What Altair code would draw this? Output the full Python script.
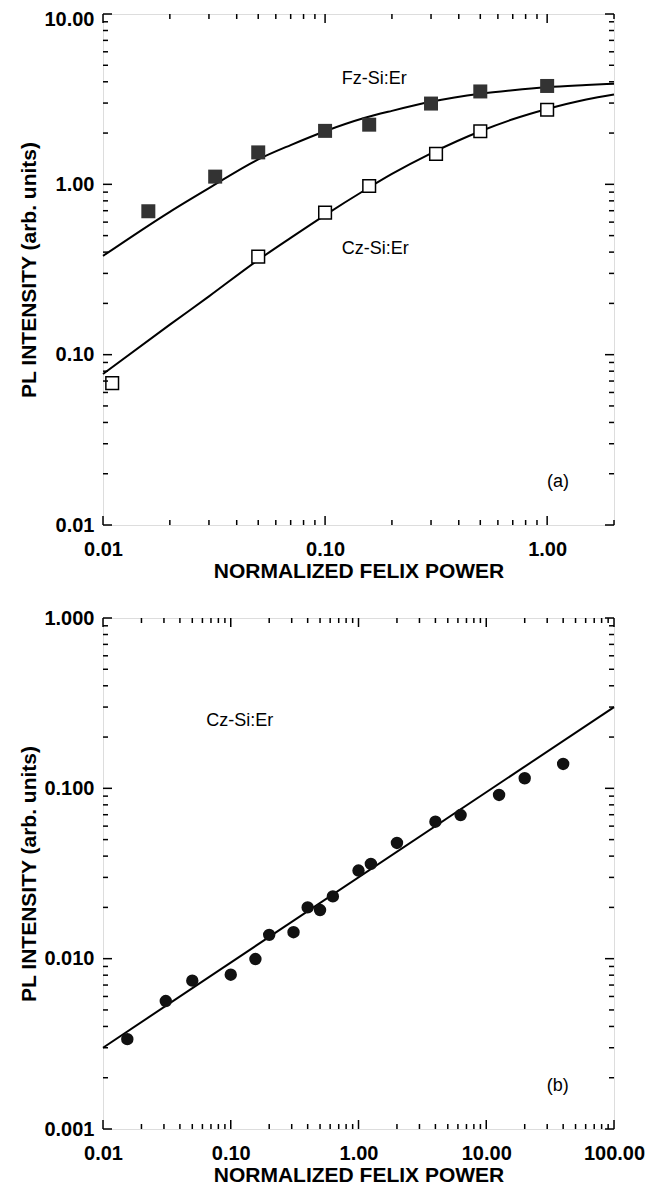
import altair as alt
import pandas as pd

# ---------------- data: panel (a) ----------------
fz_power = [0.016, 0.032, 0.050, 0.10, 0.158, 0.30, 0.50, 1.0]
fz_intensity = [0.695, 1.11, 1.54, 2.06, 2.24, 2.98, 3.51, 3.78]
cz_power = [0.011, 0.050, 0.10, 0.158, 0.316, 0.50, 1.0]
cz_intensity = [0.068, 0.376, 0.682, 0.978, 1.51, 2.05, 2.74]

fit_power_a = [0.01, 0.02, 0.03, 0.05, 0.07, 0.1, 0.15, 0.2, 0.3, 0.5, 0.7, 1.0, 1.5, 2.0]
fz_fit = [0.38, 0.69, 0.95, 1.40, 1.70, 2.05, 2.45, 2.70, 3.05, 3.40, 3.57, 3.72, 3.83, 3.90]
cz_fit = [0.077, 0.15, 0.22, 0.36, 0.485, 0.66, 0.92, 1.15, 1.52, 2.05, 2.41, 2.77, 3.15, 3.37]

# ---------------- data: panel (b) ----------------
b_power = [0.0155, 0.031, 0.05, 0.10, 0.156, 0.20, 0.31, 0.40, 0.50, 0.63,
           1.0, 1.25, 2.0, 4.0, 6.3, 12.6, 20.0, 40.0]
b_intensity = [0.00337, 0.00564, 0.00743, 0.00805, 0.00995, 0.0138, 0.0143, 0.0200,
               0.0193, 0.0232, 0.0329, 0.0360, 0.0478, 0.0637, 0.0697, 0.0914, 0.1146, 0.139]
b_fit_power = [0.01, 100.0]
b_fit = [0.003, 0.30]

# annotations
labels_a = ["Fz-Si:Er", "Cz-Si:Er"]
labels_a_x = [0.119, 0.119]
labels_a_y = [4.15, 0.417]
tag_a = ["(a)"]; tag_a_x = [1.12]; tag_a_y = [0.0179]
labels_b = ["Cz-Si:Er"]; labels_b_x = [0.0644]; labels_b_y = [0.249]
tag_b = ["(b)"]; tag_b_x = [36.3]; tag_b_y = [0.00180]

# ticks
xa_major = [0.01, 0.1, 1.0]
ya_major = [0.01, 0.1, 1.0, 10.0]
xb_major = [0.01, 0.1, 1.0, 10.0, 100.0]
yb_major = [0.001, 0.01, 0.1, 1.0]
minor_mult = [2, 3, 4, 5, 6, 7, 8, 9]


def minors(decades, upper):
    return [m * d for d in decades for m in minor_mult if m * d <= upper * 1.0001]


xa_minor = minors([0.01, 0.1, 1.0], 2.0)
ya_minor = minors([0.01, 0.1, 1.0], 10.0)
xb_minor = minors([0.01, 0.1, 1.0, 10.0], 100.0)
yb_minor = minors([0.001, 0.01, 0.1], 1.0)

W, H = 511, 511
FONT = "Liberation Sans"
MAJ, MIN = 9, 5


def make_axis(title, values, fmt, orient, top_value=None):
    kw = {}
    if orient == "y" and top_value is not None:
        kw["labelOffset"] = {"condition": {"test": f"datum.value >= {top_value * 0.999}", "value": 5},
                             "value": 0}
    return alt.Axis(
        title=title, values=values, format=fmt, ticks=False, domain=False, grid=False,
        labelFont=FONT, labelFontSize=20, labelFontWeight="bold", labelColor="black",
        labelPadding=14 if orient == "x" else 9,
        labelOverlap=False, labelFlush=False,
        titleFont=FONT, titleFontSize=21, titleFontWeight="bold", titleColor="black",
        titlePadding=1 if orient == "x" else 4,
        **kw,
    )


def panel(xdom, ydom, xmaj, xmin, ymaj, ymin, xfmt, yfmt, series_layers, texts, top_value=None):
    xs = alt.Scale(type="log", domain=xdom, nice=False)
    ys = alt.Scale(type="log", domain=ydom, nice=False)
    xax = make_axis("NORMALIZED FELIX POWER", xmaj, xfmt, "x")
    yax = make_axis("PL INTENSITY (arb. units)", ymaj, yfmt, "y", top_value)
    X = lambda: alt.X("x:Q", scale=xs, axis=xax)
    Y = lambda: alt.Y("y:Q", scale=ys, axis=yax)

    layers = []
    for kind, df, opts in series_layers:
        if kind == "line":
            layers.append(alt.Chart(df).mark_line(color="black", strokeWidth=2,
                                                   interpolate="monotone").encode(x=X(), y=Y()))
        else:
            layers.append(alt.Chart(df).mark_point(**opts).encode(x=X(), y=Y()))
    for df, align in texts:
        layers.append(alt.Chart(df).mark_text(font=FONT, fontSize=18, color="black",
                                              align=align, baseline="middle")
                      .encode(x=X(), y=Y(), text="t:N"))
    # inward ticks
    for vals, ln in [(xmaj, MAJ), (xmin, MIN)]:
        d = pd.DataFrame({"x": vals})
        layers.append(alt.Chart(d).mark_rule(color="black", strokeWidth=1.5).encode(
            x=X(), y=alt.value(H), y2=alt.value(H - ln)))
        layers.append(alt.Chart(d).mark_rule(color="black", strokeWidth=1.5).encode(
            x=X(), y=alt.value(0), y2=alt.value(ln)))
    for vals, ln in [(ymaj, MAJ), (ymin, MIN)]:
        d = pd.DataFrame({"y": vals})
        layers.append(alt.Chart(d).mark_rule(color="black", strokeWidth=1.5).encode(
            y=Y(), x=alt.value(0), x2=alt.value(ln)))
        layers.append(alt.Chart(d).mark_rule(color="black", strokeWidth=1.5).encode(
            y=Y(), x=alt.value(W), x2=alt.value(W - ln)))
    return alt.layer(*layers).properties(width=W, height=H)


df_fz = pd.DataFrame({"x": fz_power, "y": fz_intensity})
df_cz = pd.DataFrame({"x": cz_power, "y": cz_intensity})
df_fzfit = pd.DataFrame({"x": fit_power_a, "y": fz_fit})
df_czfit = pd.DataFrame({"x": fit_power_a, "y": cz_fit})
df_b = pd.DataFrame({"x": b_power, "y": b_intensity})
df_bfit = pd.DataFrame({"x": b_fit_power, "y": b_fit})

txt_a = pd.DataFrame({"x": labels_a_x, "y": labels_a_y, "t": labels_a})
txt_a2 = pd.DataFrame({"x": tag_a_x, "y": tag_a_y, "t": tag_a})
txt_b = pd.DataFrame({"x": labels_b_x, "y": labels_b_y, "t": labels_b})
txt_b2 = pd.DataFrame({"x": tag_b_x, "y": tag_b_y, "t": tag_b})

top = panel(
    [0.01, 2.0], [0.01, 10.0], xa_major, xa_minor, ya_major, ya_minor, ".2f", ".2f",
    [("line", df_fzfit, None), ("line", df_czfit, None),
     ("pt", df_fz, dict(shape="square", filled=True, color="#333333", size=196, opacity=1)),
     ("pt", df_cz, dict(shape="square", filled=True, fill="white", stroke="black",
                        strokeWidth=1.5, size=160, opacity=1))],
    [(txt_a, "left"), (txt_a2, "center")],
    top_value=10.0,
)

bottom = panel(
    [0.01, 100.0], [0.001, 1.0], xb_major, xb_minor, yb_major, yb_minor, ".2f", ".3f",
    [("line", df_bfit, None),
     ("pt", df_b, dict(shape="circle", filled=True, color="#111111", size=154, opacity=1))],
    [(txt_b, "left"), (txt_b2, "center")],
)

chart = alt.vconcat(top, bottom, spacing=25).properties(
    padding={"left": 10, "top": 0, "right": 5, "bottom": 0}
).configure_view(stroke="black", strokeWidth=2).configure(background="white")

chart.save("out.html", embed_options={"renderer": "svg", "actions": False})
